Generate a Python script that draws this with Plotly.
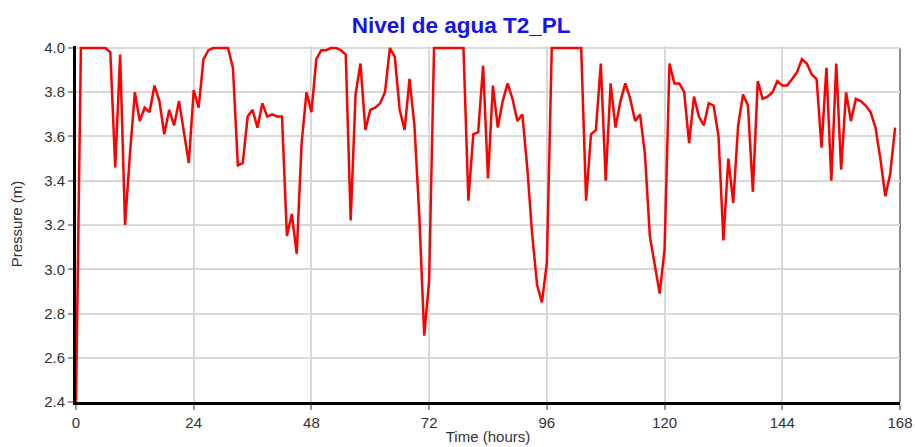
import plotly.graph_objects as go

# Hourly tank water level (pressure head) over one week
hours = list(range(0, 168))
level_m = [
    2.40, 4.00, 4.00, 4.00, 4.00, 4.00, 4.00, 3.98, 3.46, 3.97,
    3.20, 3.52, 3.80, 3.67, 3.73, 3.71, 3.83, 3.76, 3.61, 3.72,
    3.65, 3.76, 3.62, 3.48, 3.81, 3.73, 3.95, 3.99, 4.00, 4.00,
    4.00, 4.00, 3.91, 3.47, 3.48, 3.69, 3.72, 3.64, 3.75, 3.69,
    3.70, 3.69, 3.69, 3.15, 3.25, 3.07, 3.57, 3.80, 3.71, 3.95,
    3.99, 3.99, 4.00, 4.00, 3.99, 3.97, 3.22, 3.79, 3.93, 3.63,
    3.72, 3.73, 3.75, 3.80, 4.00, 3.96, 3.72, 3.63, 3.86, 3.65,
    3.24, 2.70, 2.95, 4.00, 4.00, 4.00, 4.00, 4.00, 4.00, 4.00,
    3.31, 3.61, 3.62, 3.92, 3.41, 3.83, 3.64, 3.76, 3.84, 3.77,
    3.67, 3.70, 3.46, 3.16, 2.93, 2.85, 3.03, 4.00, 4.00, 4.00,
    4.00, 4.00, 4.00, 4.00, 3.31, 3.61, 3.63, 3.93, 3.40, 3.84,
    3.64, 3.76, 3.84, 3.77, 3.67, 3.70, 3.52, 3.15, 3.02, 2.89,
    3.09, 3.93, 3.84, 3.84, 3.80, 3.57, 3.78, 3.69, 3.65, 3.75,
    3.74, 3.60, 3.13, 3.50, 3.30, 3.65, 3.79, 3.74, 3.35, 3.85,
    3.77, 3.78, 3.80, 3.85, 3.83, 3.83, 3.86, 3.89, 3.95, 3.93,
    3.88, 3.86, 3.55, 3.91, 3.40, 3.93, 3.45, 3.80, 3.67, 3.77,
    3.76, 3.74, 3.71, 3.64, 3.50, 3.33, 3.43, 3.64,
]

x_ticks = [0, 24, 48, 72, 96, 120, 144, 168]
y_ticks = [2.4, 2.6, 2.8, 3.0, 3.2, 3.4, 3.6, 3.8, 4.0]
y_tick_text = [f"{v:.1f}" for v in y_ticks]

font_family = "Arial, Liberation Sans, sans-serif"
grid_color = "#d9d9d9"

fig = go.Figure()
fig.add_trace(go.Scatter(
    x=hours,
    y=level_m,
    mode="lines",
    line=dict(color="#ff0000", width=2.5),
    showlegend=False,
    hoverinfo="x+y",
))

# thin grey frame on the top and right sides
fig.add_shape(type="line", xref="paper", yref="y", x0=0, x1=1, y0=4.0, y1=4.0,
              line=dict(color="#8c8c8c", width=2), layer="below")
fig.add_shape(type="line", xref="paper", yref="y", x0=1, x1=1, y0=2.4, y1=4.0,
              line=dict(color="#8c8c8c", width=2), layer="below")

fig.update_layout(
    width=915,
    height=447,
    margin=dict(l=76, r=15, t=46, b=45),
    paper_bgcolor="white",
    plot_bgcolor="white",
    font=dict(family=font_family, size=15, color="#333333"),
    title=dict(
        text="Nivel de agua T2_PL",
        font=dict(family=font_family, size=22.5, color="#1414f0", weight="bold"),
        xref="container", x=0.504, xanchor="center",
        yref="container", y=0.944, yanchor="middle",
    ),
    xaxis=dict(
        range=[0, 168],
        automargin=False,
        tickmode="array",
        tickvals=x_ticks,
        ticks="outside",
        ticklen=5,
        tickwidth=2,
        tickcolor="#9a9a9a",
        showgrid=True,
        gridcolor=grid_color,
        gridwidth=2,
        showline=True,
        linecolor="black",
        linewidth=3,
        zeroline=False,
        tickfont=dict(size=15, color="#333333"),
        title=dict(text="Time (hours)", font=dict(size=15, color="#333333"), standoff=2),
    ),
    yaxis=dict(
        range=[2.4, 4.009],
        automargin=False,
        tickmode="array",
        tickvals=y_ticks,
        ticktext=y_tick_text,
        ticks="outside",
        ticklen=5,
        tickwidth=2,
        tickcolor="#9a9a9a",
        showgrid=True,
        gridcolor=grid_color,
        gridwidth=2,
        showline=True,
        linecolor="black",
        linewidth=3,
        zeroline=False,
        tickfont=dict(size=15, color="#333333"),
        title=dict(text="Pressure (m)", font=dict(size=15, color="#333333"), standoff=18),
    ),
)

fig.write_html("out.html")
